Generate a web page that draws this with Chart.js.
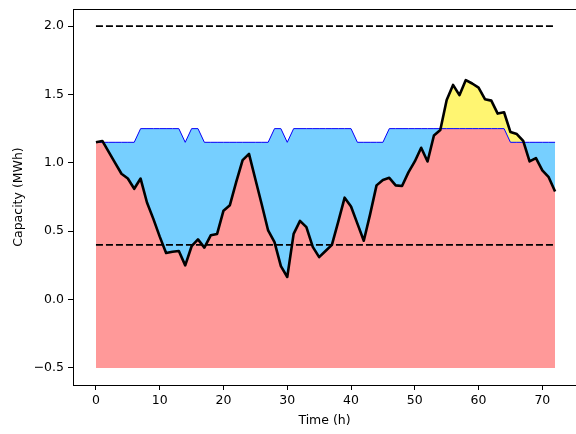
<!DOCTYPE html>
<html lang="en">
<head>
  <meta charset="UTF-8" />
  <title>Capacity</title>
  <script src="https://cdn.jsdelivr.net/npm/chart.js"></script>
  <style>
    body { margin: 0; background: #fff; }
    canvas { display: block; }
  </style>
</head>
<body>
  <canvas id="capChart" width="576" height="434"></canvas>

  <script>
    // hourly data
    const hours = [0, 1, 2, 3, 4, 5, 6, 7, 8, 9, 10, 11, 12, 13, 14, 15, 16, 17, 18, 19, 20,
      21, 22, 23, 24, 25, 26, 27, 28, 29, 30, 31, 32, 33, 34, 35, 36, 37, 38, 39, 40,
      41, 42, 43, 44, 45, 46, 47, 48, 49, 50, 51, 52, 53, 54, 55, 56, 57, 58, 59, 60,
      61, 62, 63, 64, 65, 66, 67, 68, 69, 70, 71, 72];
    const capacity = [1.15, 1.16, 1.08, 1.00, 0.92, 0.885, 0.81, 0.885, 0.71, 0.59, 0.46,
      0.34, 0.35, 0.355, 0.25, 0.39, 0.44, 0.38, 0.47, 0.48, 0.65,
      0.69, 0.86, 1.02, 1.065, 0.88, 0.695, 0.505, 0.42, 0.245, 0.165,
      0.48, 0.575, 0.53, 0.385, 0.31, 0.355, 0.40, 0.57, 0.745, 0.68,
      0.555, 0.43, 0.625, 0.835, 0.875, 0.89, 0.835, 0.83, 0.93, 1.01,
      1.11, 1.01, 1.20, 1.24, 1.46, 1.57, 1.495, 1.605, 1.58, 1.55,
      1.465, 1.455, 1.36, 1.37, 1.225, 1.21, 1.16, 1.01, 1.035, 0.945,
      0.895, 0.79];
    const limit = [1.15, 1.15, 1.15, 1.15, 1.15, 1.15, 1.15, 1.25, 1.25, 1.25, 1.25,
      1.25, 1.25, 1.25, 1.15, 1.25, 1.25, 1.15, 1.15, 1.15, 1.15,
      1.15, 1.15, 1.15, 1.15, 1.15, 1.15, 1.15, 1.25, 1.25, 1.15,
      1.25, 1.25, 1.25, 1.25, 1.25, 1.25, 1.25, 1.25, 1.25, 1.25,
      1.15, 1.15, 1.15, 1.15, 1.15, 1.25, 1.25, 1.25, 1.25, 1.25,
      1.25, 1.25, 1.25, 1.25, 1.25, 1.25, 1.25, 1.25, 1.25, 1.25,
      1.25, 1.25, 1.25, 1.25, 1.15, 1.15, 1.15, 1.15, 1.15, 1.15,
      1.15, 1.15];
    const maxLevel = 2.0;
    const minLevel = 0.4;
    const floorLevel = -0.5;
    const xTicks = [0, 10, 20, 30, 40, 50, 60, 70];
    const yTicks = [-0.5, 0.0, 0.5, 1.0, 1.5, 2.0];

    const pts = (ys) => hours.map((h, i) => ({ x: h, y: ys[i] }));
    const flat = (v) => [{ x: hours[0], y: v }, { x: hours[hours.length - 1], y: v }];

    const tickFont = { family: 'DejaVu Sans', size: 12.5 };

    // top spine (right spine falls outside the image)
    const frame = {
      id: 'frame',
      afterDraw(chart) {
        const a = chart.chartArea, c = chart.ctx;
        c.save();
        c.strokeStyle = '#000';
        c.lineWidth = 1;
        c.beginPath();
        c.moveTo(a.left, Math.round(a.top) + 0.5);
        c.lineTo(a.right, Math.round(a.top) + 0.5);
        c.stroke();
        c.restore();
      }
    };

    new Chart(document.getElementById('capChart'), {
      type: 'line',
      data: {
        datasets: [
          { // red base under the limit line
            data: pts(limit), borderWidth: 0, borderColor: 'rgba(0,0,0,0)',
            backgroundColor: '#ff9999', fill: { value: floorLevel }, order: 6
          },
          { // gap / excess between capacity and limit
            data: pts(capacity), borderWidth: 0, borderColor: 'rgba(0,0,0,0)',
            fill: { target: 0, above: '#fff571', below: '#76cfff' }, order: 5
          },
          { data: pts(limit), borderColor: '#0000ff', borderWidth: 1, fill: false, order: 4 },
          { data: flat(maxLevel), borderColor: '#000', borderWidth: 1.9, borderDash: [7, 3], fill: false, order: 3 },
          { data: flat(minLevel), borderColor: '#000', borderWidth: 1.9, borderDash: [7, 3], fill: false, order: 2 },
          { data: pts(capacity), borderColor: '#000', borderWidth: 2.6, borderJoinStyle: 'round', fill: false, order: 1 }
        ]
      },
      options: {
        responsive: false,
        animation: false,
        events: [],
        elements: { point: { radius: 0 }, line: { tension: 0 } },
        layout: { padding: { top: 9, right: 0, left: 0, bottom: 0 } },
        plugins: { legend: { display: false }, tooltip: { enabled: false } },
        scales: {
          x: {
            type: 'linear', min: -3.6, max: 75.28,
            afterBuildTicks: (s) => { s.ticks = xTicks.map(v => ({ value: v })); },
            afterFit: (s) => { s.height = 49; s.paddingLeft = 0; s.paddingRight = 0; },
            grid: { drawOnChartArea: false, drawTicks: true, tickLength: 5, color: '#000' },
            border: { display: true, color: '#000', width: 1 },
            ticks: { color: '#000', font: tickFont, padding: 3, maxRotation: 0 },
            title: { display: true, text: 'Time (h)', color: '#000', font: tickFont, padding: { top: 1, bottom: 6 } }
          },
          y: {
            min: -0.625, max: 2.125,
            afterBuildTicks: (s) => { s.ticks = yTicks.map(v => ({ value: v })); },
            afterFit: (s) => { s.width = 73; s.paddingTop = 0; s.paddingBottom = 0; },
            grid: { drawOnChartArea: false, drawTicks: true, tickLength: 5, color: '#000' },
            border: { display: true, color: '#000', width: 1 },
            ticks: {
              color: '#000', font: tickFont, padding: 4,
              callback: (v) => (v < 0 ? '\u2212' : '') + Math.abs(v).toFixed(1)
            },
            title: { display: true, text: 'Capacity (MWh)', color: '#000', font: tickFont, padding: { top: 11, bottom: 0 } }
          }
        }
      },
      plugins: [frame]
    });
  </script>
</body>
</html>
